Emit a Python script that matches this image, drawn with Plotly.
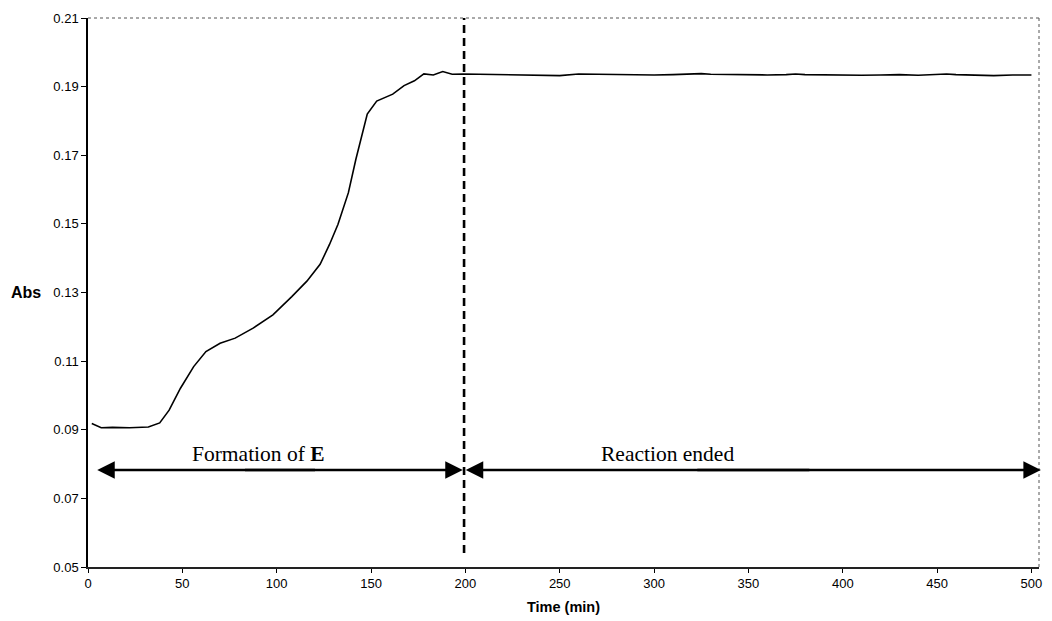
import plotly.graph_objects as go

# ---- data ----
time_min = [2, 7, 13, 22, 32, 38, 43, 49, 56, 62.5, 70, 78, 87.5, 98, 108, 116, 123, 128,
            132.5, 138, 142, 145.5, 148, 153, 161.5, 167.5, 173, 178, 183, 188, 193, 199,
            210, 220, 230, 240, 250, 260, 270, 280, 290, 300, 310, 320, 325, 330, 340, 350,
            360, 370, 375, 380, 390, 400, 410, 420, 430, 440, 450, 455, 460, 470, 480, 490, 500]
absorbance = [0.0918, 0.0906, 0.0907, 0.0906, 0.0908, 0.0920, 0.0957, 0.1021, 0.1084, 0.1128,
              0.1152, 0.1167, 0.1196, 0.1235, 0.1288, 0.1333, 0.1382, 0.1440, 0.1499, 0.1591,
              0.1689, 0.1767, 0.1820, 0.1858, 0.1878, 0.1903, 0.1917, 0.1937, 0.1934, 0.1944,
              0.1936, 0.1937, 0.1936, 0.1935, 0.1935, 0.1934, 0.1932, 0.1937, 0.1936, 0.1936,
              0.1935, 0.1934, 0.1935, 0.1937, 0.1938, 0.1936, 0.1935, 0.1934, 0.1934, 0.1935,
              0.1937, 0.1935, 0.1934, 0.1935, 0.1933, 0.1934, 0.1935, 0.1933, 0.1935, 0.1937,
              0.1935, 0.1934, 0.1932, 0.1934, 0.1934]

divider_time = [199.3, 199.3]
divider_abs = [0.0541, 0.21]

phase_labels = ["Formation of <b>E</b>", "Reaction ended"]
phase_label_x = [90.5, 307]
phase_start = [4.9, 200.2]
phase_end = [198.6, 505]
arrow_level = 0.0783
label_level = 0.0828

x_ticks = [0, 50, 100, 150, 200, 250, 300, 350, 400, 450, 500]
y_ticks = [0.05, 0.07, 0.09, 0.11, 0.13, 0.15, 0.17, 0.19, 0.21]

fig = go.Figure()
fig.add_trace(go.Scatter(x=time_min, y=absorbance, mode="lines",
                         line=dict(color="black", width=1.6), showlegend=False))
fig.add_trace(go.Scatter(x=divider_time, y=divider_abs, mode="lines",
                         line=dict(color="black", width=2.6, dash="8px,5px"), showlegend=False))

annotations = []
for lab, lx, x0, x1 in zip(phase_labels, phase_label_x, phase_start, phase_end):
    annotations.append(dict(x=lx, y=label_level, xref="x", yref="y", text=lab, showarrow=False,
                            font=dict(family="Liberation Serif, Times New Roman, serif", size=21.5, color="black"),
                            xanchor="center", yanchor="middle"))
    mid = (x0 + x1) / 2
    span = x1 - x0
    # each half: head at one end, tail past the middle so both halves overlap
    for head, tail in ((x0, mid + 0.1 * span), (x1, mid - 0.1 * span)):
        annotations.append(dict(x=head, y=arrow_level, xref="x", yref="y", ax=tail, ay=arrow_level,
                                axref="x", ayref="y", text="", showarrow=True,
                                arrowhead=2, arrowwidth=2.5, arrowsize=1.4,
                                arrowcolor="black", standoff=0))

annotations.append(dict(x=-0.065, y=0.5, xref="paper", yref="paper", text="<b>Abs</b>",
                        showarrow=False, xanchor="center", yanchor="middle",
                        font=dict(family="Liberation Sans, Arial, sans-serif", size=16, color="black")))
annotations.append(dict(x=0.5, y=-0.073, xref="paper", yref="paper", text="<b>Time (min)</b>",
                        showarrow=False, xanchor="center", yanchor="middle",
                        font=dict(family="Liberation Sans, Arial, sans-serif", size=14.5, color="black")))

shapes = [
    dict(type="line", xref="paper", yref="paper", x0=0, x1=1, y0=1, y1=1,
         line=dict(color="#555555", width=1, dash="dot")),
    dict(type="line", xref="paper", yref="paper", x0=1, x1=1, y0=0, y1=1,
         line=dict(color="#555555", width=1, dash="dot")),
]

fig.update_layout(
    width=1052, height=621,
    margin=dict(l=88, r=10, t=18, b=54),
    paper_bgcolor="white", plot_bgcolor="white",
    font=dict(family="Liberation Sans, Arial, sans-serif", size=13, color="black"),
    annotations=annotations, shapes=shapes,
    xaxis=dict(range=[0, 504], tickvals=x_ticks, ticks="outside", ticklen=4, tickcolor="black",
               showline=True, linecolor="#222222", linewidth=1.5, showgrid=False, zeroline=False,
               tickfont=dict(size=13)),
    yaxis=dict(range=[0.05, 0.21], tickvals=y_ticks, tickformat=".2f", ticks="outside", ticklen=5,
               tickcolor="black", showline=True, linecolor="black", linewidth=1.5,
               showgrid=False, zeroline=False, tickfont=dict(size=13)),
)

fig.write_html("out.html")
